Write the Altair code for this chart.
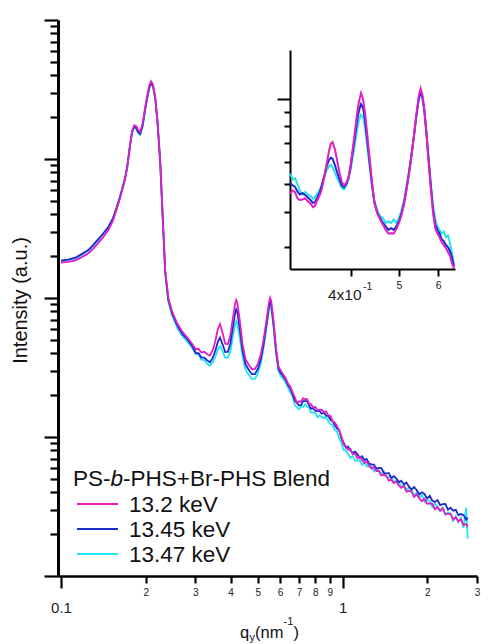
import altair as alt
import pandas as pd

# ---------------- data ----------------
q_main = [
    0.100, 0.106, 0.112, 0.118, 0.125, 0.130, 0.135, 0.141, 0.147, 0.153,
    0.158, 0.162, 0.165, 0.169, 0.172, 0.176, 0.179, 0.182, 0.185, 0.188,
    0.191, 0.195, 0.199, 0.203, 0.206, 0.209, 0.212, 0.216, 0.220, 0.225,
    0.2307, 0.2345, 0.2403, 0.248, 0.2588, 0.270, 0.2809, 0.293,
    0.301, 0.308, 0.315, 0.323, 0.331, 0.338, 0.346, 0.353, 0.361, 0.367,
    0.375, 0.383, 0.391, 0.399, 0.407, 0.415, 0.419, 0.423, 0.431, 0.441,
    0.452, 0.464, 0.476, 0.488, 0.500, 0.512, 0.524, 0.536, 0.548, 0.553,
    0.558, 0.568, 0.580, 0.592, 0.604, 0.616, 0.628, 0.640,
    0.652, 0.664, 0.676, 0.688, 0.700, 0.712, 0.724, 0.736, 0.748, 0.760,
    0.773, 0.786, 0.800, 0.814, 0.828, 0.843, 0.858, 0.873, 0.889, 0.905,
    0.921, 0.938, 0.955, 0.972, 0.990, 1.008, 1.027, 1.046, 1.066, 1.086,
    1.107, 1.128, 1.150, 1.172, 1.195, 1.218, 1.242, 1.267, 1.292, 1.318,
    1.345, 1.372, 1.400, 1.429, 1.458, 1.488, 1.519, 1.551, 1.583, 1.616,
    1.650, 1.685, 1.721, 1.757, 1.794, 1.832, 1.871, 1.911, 1.952, 1.994,
    2.037, 2.081, 2.126, 2.172, 2.219, 2.267, 2.316, 2.366, 2.417, 2.469,
    2.522, 2.576, 2.631, 2.687, 2.744, 2.780,
]

i_132 = [
    180, 182, 186, 196, 209, 226, 246, 273, 306, 360,
    440, 520, 595, 720, 880, 1280, 1600, 1750, 1720, 1620,
    1570, 1800, 2360, 2950, 3400, 3630, 3450, 2800, 1900, 980,
    322, 158, 101, 80, 65.5, 57, 52, 46.5,
    42.8, 43.1, 40.5, 41.0, 39.4, 38.5, 42.3, 48.8, 60.3, 64.9,
    55.7, 46.9, 46.5, 53.4, 69.9, 90.2, 96.6, 92.0, 69.9, 46.9,
    36.3, 33.1, 30.8, 30.8, 33.6, 39.1, 50.1, 68.1, 93.8, 100.3,
    94.8, 69.9, 44.2, 32.2, 29.9, 28.1, 26.5, 24.2,
    23.0, 21.0, 19.4, 17.6, 18.0, 18.0, 19.0, 18.7, 18.7, 17.4,
    17.2, 16.3, 16.5, 15.6, 15.7, 15.75, 15.1, 15.3, 14.35, 14.15,
    13.05, 12.7, 12.0, 11.1, 10.1, 8.8, 8.6, 8.1, 8.2, 7.55,
    7.58, 7.03, 7.2, 6.85, 6.52, 6.64, 6.19, 5.93, 6.08, 5.69,
    5.71, 5.29, 5.35, 5.25, 4.85, 4.93, 4.66, 4.78, 4.47, 4.31,
    4.45, 4.04, 4.10, 4.04, 3.71, 3.87, 3.62, 3.45, 3.60, 3.31,
    3.33, 3.32, 3.02, 3.14, 2.95, 3.06, 2.78, 2.80, 2.81, 2.55,
    2.64, 2.47, 2.56, 2.33, 2.36, 2.25,
]

i_1345 = [
    186, 189, 194, 206, 221, 240, 262, 290, 322, 376,
    455, 535, 612, 735, 890, 1270, 1570, 1710, 1670, 1560,
    1510, 1740, 2280, 2850, 3280, 3500, 3380, 2760, 1880, 960,
    315, 154, 98, 77.5, 63.5, 55, 50.5, 44.8,
    40.2, 40.1, 37.3, 37.3, 35.5, 34.5, 37.2, 41.5, 48.8, 51.9,
    46.2, 40.8, 40.9, 46.5, 60.1, 77.1, 82.8, 79.1, 60.8, 42.2,
    33.4, 30.5, 28.3, 28.3, 30.9, 36.0, 46.3, 63.3, 87.7, 93.8,
    88.6, 65.7, 42.0, 30.9, 28.7, 27.3, 25.7, 23.5,
    22.3, 20.2, 18.4, 17.6, 16.9, 16.95, 18.1, 18.1, 18.15, 16.9,
    15.97, 16.1, 15.45, 15.3, 15.4, 14.7, 14.95, 14.25, 14.2, 13.3,
    13.0, 12.2, 11.5, 11.3, 9.8, 9.1, 8.38, 8.53, 7.99, 7.69,
    7.84, 7.54, 7.08, 7.26, 6.85, 6.94, 6.43, 6.35, 6.34, 5.92,
    6.0, 5.97, 5.53, 5.45, 5.51, 5.06, 5.22, 5.04, 4.73, 4.85,
    4.55, 4.70, 4.39, 4.19, 4.36, 4.16, 3.87, 4.0, 3.89, 3.61,
    3.78, 3.49, 3.41, 3.52, 3.24, 3.29, 3.30, 3.0, 3.10, 2.95,
    2.99, 2.74, 2.79, 2.74, 2.54, 2.63,
]

i_1347 = [
    185, 188, 193, 204, 219, 237, 259, 288, 320, 372,
    450, 530, 605, 725, 880, 1250, 1550, 1690, 1650, 1540,
    1500, 1720, 2250, 2820, 3250, 3480, 3360, 2750, 1880, 960,
    310, 150, 95, 75, 61, 53, 48.5, 43.5,
    39.4, 39.2, 36.0, 35.7, 33.5, 32.5, 34.7, 37.6, 42.8, 45.0,
    41.2, 37.1, 37.2, 41.1, 51.0, 64.0, 68.2, 65.3, 52.4, 38.0,
    30.5, 28.1, 26.1, 26.2, 28.6, 33.6, 43.6, 59.9, 83.1, 88.9,
    84.4, 62.9, 40.2, 29.6, 27.5, 26.1, 24.6, 22.7,
    21.0, 19.7, 16.95, 16.4, 15.8, 16.7, 16.4, 17.2, 16.5, 16.3,
    15.0, 15.05, 14.9, 13.9, 14.25, 14.0, 13.6, 13.9, 12.97, 12.35,
    12.25, 11.2, 11.0, 9.8, 9.1, 8.04, 8.03, 7.47, 7.08, 7.31,
    6.76, 6.77, 6.8, 6.3, 6.53, 6.13, 6.16, 6.17, 5.66, 5.9,
    5.72, 5.39, 5.65, 5.19, 5.1, 5.18, 4.7, 4.88, 4.8, 4.35,
    4.5, 4.17, 4.35, 4.12, 3.78, 3.99, 3.69, 3.82, 3.42, 3.51,
    3.48, 3.13, 3.33, 3.09, 2.95, 3.12, 2.77, 2.87, 2.81, 2.5,
    2.69, 2.44, 2.61, 2.21, 3.1, 1.85,
]

# inset (separately normalised in the original figure)
q_inset = [
    0.301, 0.305, 0.308, 0.312, 0.315, 0.319, 0.323, 0.327, 0.331, 0.335,
    0.338, 0.342, 0.346, 0.349, 0.353, 0.357, 0.361, 0.364, 0.367, 0.371,
    0.375, 0.379, 0.383, 0.387, 0.391, 0.395, 0.399, 0.403, 0.407, 0.411,
    0.415, 0.419, 0.423, 0.427, 0.431, 0.436, 0.441, 0.446, 0.452, 0.458,
    0.464, 0.470, 0.476, 0.482, 0.488, 0.494, 0.500, 0.506, 0.512, 0.518,
    0.524, 0.530, 0.536, 0.542, 0.548, 0.553, 0.558, 0.563, 0.568, 0.574,
    0.580, 0.586, 0.592, 0.598, 0.604, 0.610, 0.616, 0.622, 0.628, 0.634,
    0.640, 0.646,
]
inset_132 = [
    46.5, 47.5, 46.9, 44.5, 44.0, 44.2, 44.6, 43.5, 42.8, 41.5,
    41.9, 44.0, 46.0, 48.0, 53.0, 59.0, 65.5, 69.5, 70.5, 66.5,
    60.5, 55.0, 51.0, 49.5, 50.5, 52.5, 58.0, 66.5, 76.0, 88.0,
    98.0, 105.0, 100.0, 89.0, 76.0, 62.0, 51.0, 43.0, 39.5, 37.5,
    36.0, 34.5, 33.5, 33.6, 33.5, 34.8, 36.5, 39.0, 42.5, 48.0,
    54.5, 63.0, 74.0, 88.0, 102.0, 109.0, 103.0, 91.0, 76.0, 60.0,
    48.0, 39.5, 35.0, 33.5, 32.5, 31.2, 30.5, 29.8, 28.8, 28.0,
    26.3, 25.2,
]
inset_1345 = [
    50.5, 49.5, 49.0, 47.0, 46.0, 46.5, 45.8, 45.0, 44.0, 43.0,
    43.2, 45.0, 47.0, 49.5, 53.5, 58.0, 61.0, 62.0, 61.5, 58.5,
    55.0, 52.0, 49.5, 48.8, 50.0, 52.5, 57.5, 65.0, 73.0, 83.0,
    91.0, 96.0, 93.0, 84.0, 72.0, 60.0, 50.0, 43.0, 39.5, 38.0,
    36.5, 35.5, 34.5, 35.0, 34.5, 35.5, 37.0, 39.5, 43.0, 48.5,
    55.0, 63.5, 74.0, 87.0, 100.0, 106.0, 101.0, 90.0, 76.0, 61.0,
    49.0, 40.5, 36.0, 34.5, 33.5, 32.0, 31.5, 30.5, 30.0, 29.0,
    27.5, 25.6,
]
inset_1347 = [
    54.5, 52.0, 52.5, 50.0, 47.5, 46.0, 47.0, 46.0, 45.5, 44.5,
    45.0, 46.5, 48.0, 50.0, 53.0, 56.0, 58.0, 58.5, 57.5, 55.0,
    52.5, 50.5, 48.5, 48.0, 49.5, 52.0, 56.0, 62.0, 69.0, 77.0,
    84.0, 88.0, 86.5, 79.0, 69.0, 58.0, 49.0, 43.5, 40.5, 38.5,
    38.0, 36.5, 37.0, 36.5, 37.5, 36.5, 38.0, 40.5, 44.0, 49.5,
    56.0, 64.0, 74.0, 86.0, 99.0, 105.0, 100.0, 90.0, 77.0, 62.0,
    50.5, 42.0, 37.5, 35.5, 34.5, 33.5, 34.0, 32.5, 33.0, 31.0,
    28.5, 26.0,
]

series_names = ["13.2 keV", "13.45 keV", "13.47 keV"]
series_colors = ["#e01ec4", "#1b2ccf", "#26e2ee"]
legend_title = ["PS-", "b", "-PHS+Br-PHS Blend"]

x_tick_values = [0.1, 0.2, 0.3, 0.4, 0.5, 0.6, 0.7, 0.8, 0.9, 1, 2, 3]
y_tick_values = [m * 10 ** e for e in range(0, 4) for m in range(1, 10)] + [10000]
inset_x_ticks = [0.4, 0.5, 0.6]
inset_y_ticks = [30, 40, 50, 60, 70, 80, 90, 100]

FONT = "Liberation Sans"
W, H = 419, 556

# ---------------- scales & axes ----------------
major_x = "datum.value < 0.15 || (datum.value > 0.95 && datum.value < 1.05)"
major_y = "abs(log(datum.value)/LN10 - round(log(datum.value)/LN10)) < 0.001"

x_scale = alt.Scale(type="log", domain=[0.0976, 3.0], nice=False)
y_scale = alt.Scale(type="log", domain=[1, 10000], nice=False)

x_axis = alt.Axis(
    values=x_tick_values, title=None, grid=False,
    domainColor="black", domainWidth=2.6, tickColor="black", tickWidth=2.2,
    tickSize={"condition": {"test": major_x, "value": 12}, "value": 7},
    labelFontSize={"condition": {"test": major_x, "value": 15}, "value": 10},
    labelPadding={"condition": {"test": major_x, "value": 12}, "value": 4},
    labelExpr="datum.value < 0.15 ? '0.1' : (datum.value < 0.95 ? format(round(datum.value*10),'d') : format(round(datum.value),'d'))",
    labelFont=FONT, labelColor="#222", labelBaseline="top",
    labelFlush=False, labelOverlap=False,
)
y_axis = alt.Axis(
    values=y_tick_values, labels=False, grid=False,
    domainColor="black", domainWidth=3, tickColor="black", tickWidth=2.2,
    tickSize={"condition": {"test": major_y, "value": 14}, "value": 8},
    title="Intensity (a.u.)", titleFont=FONT, titleFontSize=20,
    titleFontWeight="normal", titleColor="#111",
    titleX=-38, titleY=H / 2 + 2, titleAngle=270, titleBaseline="middle", titleAlign="center",
)

ix_scale = alt.Scale(type="log", domain=[0.301, 0.649], nice=False, range=[232, 397])
iy_scale = alt.Scale(type="log", domain=[25.1, 149], nice=False, range=[249, 30])
ix_axis = alt.Axis(
    values=inset_x_ticks, orient="bottom", offset=249 - H, title=None, grid=False,
    domainColor="black", domainWidth=2, tickColor="black", tickWidth=2, tickSize=7,
    labelExpr="datum.value < 0.45 ? '' : format(round(datum.value*10),'d')",
    labelFont=FONT, labelFontSize=10.5, labelColor="#222", labelPadding=4,
    labelFlush=False, labelOverlap=False,
)
iy_axis = alt.Axis(
    values=inset_y_ticks, orient="left", offset=-232, title=None, grid=False, labels=False,
    domainColor="black", domainWidth=2, tickColor="black", tickWidth=2,
    tickSize={"condition": {"test": "datum.value > 95", "value": 13}, "value": 6},
)

# ---------------- data layers ----------------
order = [2, 1, 0]  # draw cyan, then blue, then magenta on top
main_vals = [i_132, i_1345, i_1347]
inset_vals = [inset_132, inset_1345, inset_1347]

main_layers = []
inset_layers = []
for k in order:
    dfm = pd.DataFrame({"q": q_main, "I": main_vals[k], "series": series_names[k]})
    main_layers.append(
        alt.Chart(dfm).mark_line(color=series_colors[k], strokeWidth=1.8).encode(
            x=alt.X("q:Q", scale=x_scale, axis=x_axis),
            y=alt.Y("I:Q", scale=y_scale, axis=y_axis),
        )
    )
    dfi = pd.DataFrame({"q": q_inset, "I": inset_vals[k], "series": series_names[k]})
    inset_layers.append(
        alt.Chart(dfi).mark_line(color=series_colors[k], strokeWidth=2.0).encode(
            x=alt.X("q:Q", scale=ix_scale, axis=ix_axis),
            y=alt.Y("I:Q", scale=iy_scale, axis=iy_axis),
        )
    )

main = alt.layer(*main_layers)
inset = alt.layer(*inset_layers)

one = pd.DataFrame({"a": [0]})


def txt(s, x, y, size, style="normal", color="#111"):
    return alt.Chart(one).mark_text(
        text=s, align="left", baseline="alphabetic", font=FONT,
        fontSize=size, fontStyle=style, color=color,
    ).encode(x=alt.value(x), y=alt.value(y))


# legend (manual, so that "b" can be italic)
legend = [
    txt(legend_title[0], 15, 466, 22.5),
    txt(legend_title[1], 52.5, 466, 22.5, style="italic"),
    txt(legend_title[2], 65, 466, 22.5),
]
for k in range(3):
    yk = 484 + 25 * k
    legend.append(
        alt.Chart(one).mark_rule(color=series_colors[k], strokeWidth=2.2).encode(
            x=alt.value(19), x2=alt.value(60), y=alt.value(yk)
        )
    )
    legend.append(
        alt.Chart(one).mark_text(
            text=series_names[k], align="left", baseline="middle", font=FONT,
            fontSize=22.5, color="#111",
        ).encode(x=alt.value(71), y=alt.value(yk + 1))
    )

# axis titles / special labels
annots = [
    txt("q", 182, 618, 16.5),
    txt("y", 191.5, 621, 11),
    txt("(nm", 197, 618, 16.5),
    txt("-1", 225.5, 605, 11),
    txt(")", 235.5, 618, 16.5),
    txt("4x10", 270, 280, 15.5, color="#222"),
    txt("-1", 305, 270, 10.5, color="#222"),
]

chart = alt.layer(main, inset, *legend, *annots).resolve_scale(
    x="independent", y="independent"
).properties(
    width=W, height=H,
    autosize=alt.AutoSizeParams(type="none"),
    padding={"left": 50, "top": 12, "right": 6, "bottom": 68},
).configure_view(stroke=None)

chart.save("out.html", embed_options={"renderer": "svg", "actions": False})
